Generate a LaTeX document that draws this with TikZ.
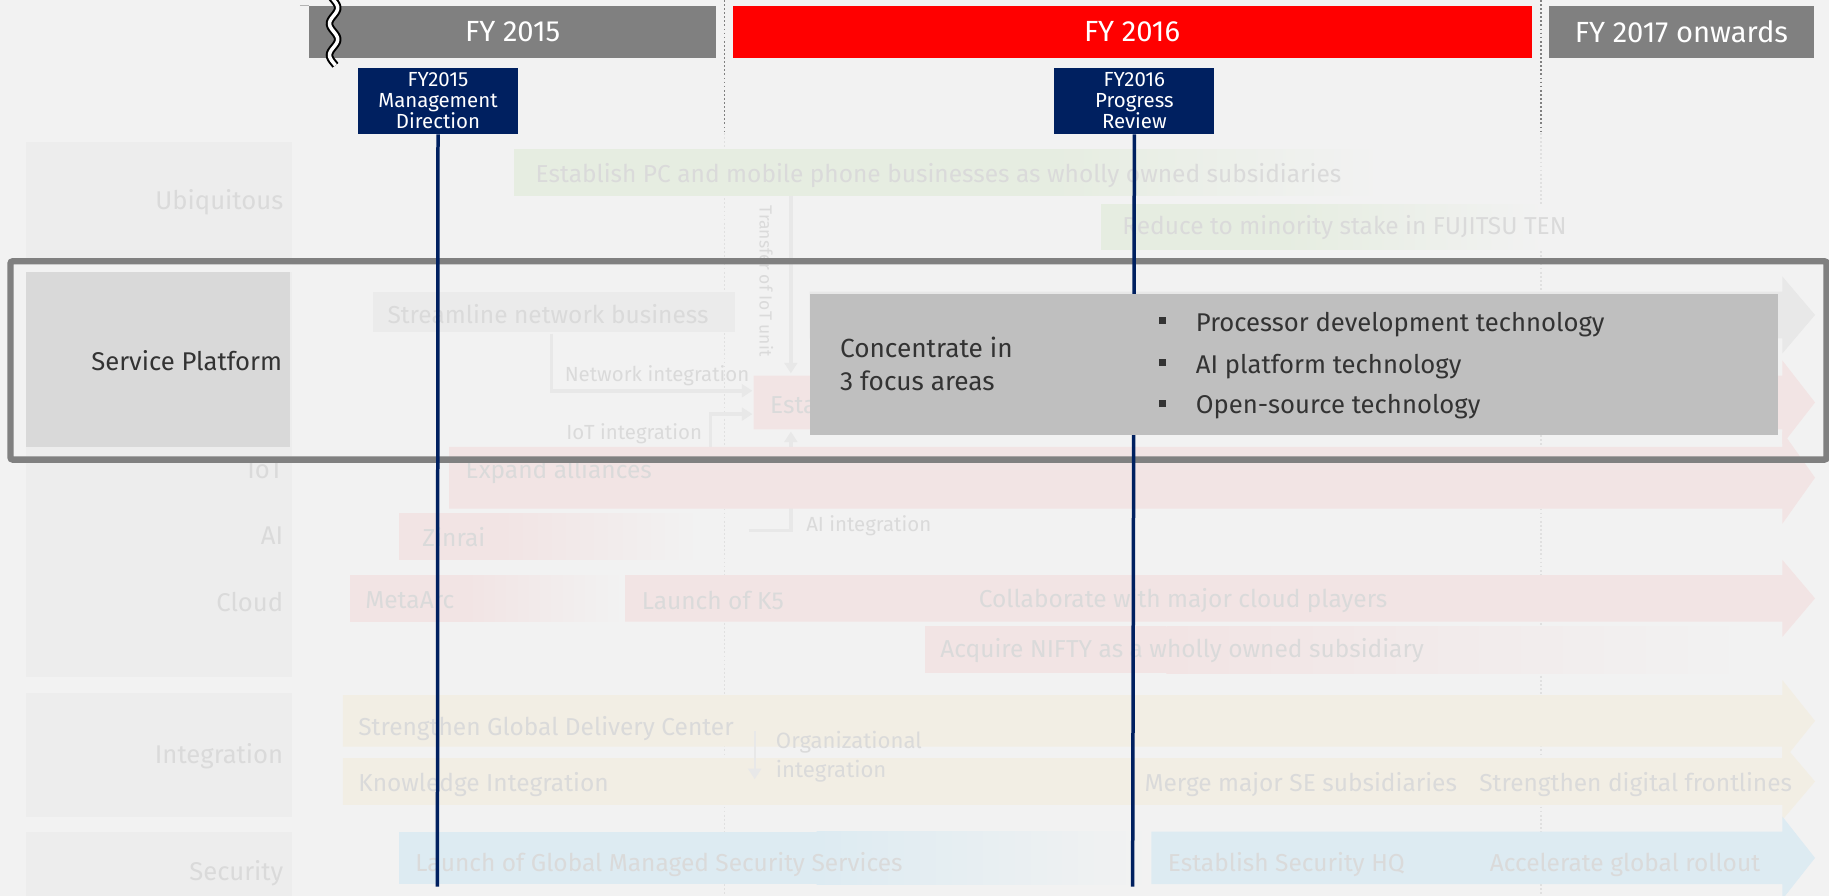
\documentclass[tikz,border=0pt]{standalone}
\usepackage{fontspec}
\setmainfont{Fira Sans}
\usetikzlibrary{arrows.meta,positioning}

\definecolor{bgray}{HTML}{F2F2F2}
\definecolor{fadetext}{HTML}{DADADA}
\definecolor{navy}{HTML}{002060}
\definecolor{fyred}{HTML}{FF0000}
\definecolor{fygray}{HTML}{808080}
\definecolor{greenrow}{HTML}{E6EDE1}
\definecolor{pinkrow}{HTML}{F2E4E4}
\definecolor{beigerow}{HTML}{F2EEE4}
\definecolor{bluerow}{HTML}{DDEBF2}
\definecolor{grayrow}{HTML}{E8E8E8}
\definecolor{labelbox}{HTML}{EDEDED}
\definecolor{darktext}{HTML}{333333}
\definecolor{focusbox}{HTML}{BFBFBF}

\tikzset{
  yearbar/.style={fill=#1, text=white, inner sep=0pt, minimum height=45pt,
    font=\fontsize{25}{28}\selectfont},
  milestone/.style={fill=navy, text=white, inner sep=0pt, align=center,
    minimum width=137pt, minimum height=57pt, font=\fontsize{17.5}{18}\selectfont},
  rowlabel/.style={anchor=east, text=fadetext, inner sep=0pt, yshift=-2pt,
    font=\fontsize{22}{25}\selectfont},
  faded/.style={anchor=west, text=fadetext, inner sep=0pt, yshift=-1.5pt,
    font=\fontsize{21}{24}\selectfont},
  smallfaded/.style={anchor=west, text=fadetext, inner sep=0pt, yshift=-1pt,
    font=\fontsize{17.5}{20}\selectfont},
  conn/.style={draw=grayrow, line width=3pt, -{Triangle[width=11pt,length=9pt]}},
  navyline/.style={draw=navy, line width=3pt},
}

% arrow shaped row band: x1, y1, y2, colour
\newcommand{\rowarrow}[4]{%
  \fill[#4] (#1,#2) -- (1528,#2) -- (1528,{#2-13}) -- (1556,{(#2+#3)/2})
    -- (1528,{#3+13}) -- (1528,#3) -- (#1,#3) -- cycle;}
% box that fades out to the right: x1, y1, xm, x2, y2, colour
\newcommand{\fadebox}[6]{%
  \fill[#6] (#1,#2) rectangle (#3,#5);
  \shade[left color=#6, right color=bgray] (#3,#2) rectangle (#4,#5);}

\begin{document}
\begin{tikzpicture}[x=1pt,y=-1pt]
  \fill[bgray] (0,0) rectangle (1568,768);
  \useasboundingbox (0,0) rectangle (1568,768);

  % label column
  \fill[labelbox] (22,122) rectangle (250,222);
  \fill[labelbox] (22,233) rectangle (250,580);
  \fill[labelbox] (22,594) rectangle (250,700);
  \fill[labelbox] (22,713) rectangle (250,768);

  % year separators
  \foreach \x in {621,1321} {
    \draw[fygray, line width=1.2pt, dash pattern=on 1.5pt off 2pt] (\x,0) -- (\x,114);
    \draw[black!12, line width=1.2pt, dash pattern=on 1.5pt off 2pt] (\x,114) -- (\x,768);
  }

  % years
  \draw[fygray!60, line width=0.8pt] (257,5) -- (265,5);
  \node[yearbar=fygray, minimum width=349pt] (fy15) at (439.5,27.5) {FY 2015};
  \node[yearbar=fyred, minimum width=685pt] (fy16) at (970.5,27.5) {FY 2016};
  \node[yearbar=fygray, minimum width=227pt] (fy17) at (1441.5,27.5) {FY 2017 onwards};
  % break mark
  \draw[black, line width=6.5pt] plot[domain=-2:56, samples=60] ({286+3.5*sin(\x/27*360)},\x);
  \draw[white, line width=3pt] plot[domain=-2:56, samples=60] ({286+3.5*sin(\x/27*360)},\x);

  % row labels
  \foreach \y/\t [count=\i] in {171/Ubiquitous, 401/IoT, 457/AI, 514/Cloud,
      646/Integration, 747/Security}
    \node[rowlabel] (lab\i) at (243,\y) {\t};

  % ubiquitous
  \fadebox{441}{128}{900}{1185}{168}{greenrow}
  \node[faded] (ubq) at (459,149) {Establish PC and mobile phone businesses as wholly owned subsidiaries};
  \fadebox{944}{175}{1100}{1325}{214}{greenrow}
  \node[faded] (ften) at (962,194) {Reduce to minority stake in FUJITSU TEN};

  % service platform
  \rowarrow{694}{250}{290}{grayrow}
  \fill[black!8] (320,250) rectangle (630,285);
  \node[faded] (strm) at (332,268) {Streamline network business};
  \rowarrow{646}{322}{368}{pinkrow}
  \node[faded] (estab) at (660,345) {Establish};
  \coordinate (estabN) at (645,335);
  \coordinate (estabI) at (645,355);
  \coordinate (estabT) at (678,320);
  \coordinate (estabB) at (678,370);
  \coordinate (netfrom) at (473,286);
  \coordinate (iotfrom) at (609,384);
  \coordinate (aifrom) at (642,455);
  \coordinate (pcfrom) at (678,168);
  \draw[conn] (netfrom) |- (estabN);
  \draw[conn] (iotfrom) |- (estabI);
  \draw[conn] (aifrom) -| (estabB);
  \draw[conn] (pcfrom) -- (estabT);
  \node[smallfaded] (netlab) at (484,321) {Network integration};
  \node[smallfaded, anchor=east] (iotlab) at (602,371) {IoT integration};
  \node[smallfaded] (ailab) at (691,450) {AI integration};
  \node[text=fadetext, inner sep=0pt, rotate=-90, font=\fontsize{15}{17}\selectfont] (xfer) at (657,241) {Transfer of IoT unit};

  % iot, ai, cloud
  \rowarrow{385}{383}{436}{pinkrow}
  \node[faded] (alli) at (399,403) {Expand alliances};
  \fadebox{342}{440}{430}{600}{480}{pinkrow}
  \node[faded] (zinr) at (362,459) {Zinrai};
  \fadebox{300}{493}{400}{535}{533}{pinkrow}
  \node[faded] (meta) at (313,513) {MetaArc};
  \rowarrow{536}{493}{533}{pinkrow}
  \node[faded] (k5) at (550,513) {Launch of K5};
  \node[faded] (collab) at (839,513) {Collaborate with major cloud players};
  \fadebox{793}{537}{1000}{1500}{577}{pinkrow}
  \node[faded] (nifty) at (806,556) {Acquire NIFTY as a wholly owned subsidiary};

  % integration
  \rowarrow{294}{596}{640}{beigerow}
  \node[faded] (gdc) at (307,623) {Strengthen Global Delivery Center};
  \rowarrow{294}{650}{690}{beigerow}
  \node[faded] (know) at (307,671) {Knowledge Integration};
  \node[faded] (merge) at (981,671) {Merge major SE subsidiaries};
  \node[faded] (digi) at (1268,671) {Strengthen digital frontlines};
  \coordinate (orgfrom) at (647,627);
  \coordinate (orgto) at (647,668);
  \draw[conn, line width=2pt] (orgfrom) -- (orgto);
  \node[smallfaded, align=left, font=\fontsize{19}{25}\selectfont] (orglab) at (665,648) {Organizational\\integration};

  % security
  \fadebox{342}{713}{700}{985}{758}{bluerow}
  \node[faded] (gmss) at (356,740) {Launch of Global Managed Security Services};
  \rowarrow{987}{713}{758}{bluerow}
  \node[faded] (shq) at (1001,740) {Establish Security HQ};
  \node[faded] (roll) at (1277,740) {Accelerate global rollout};

  % highlight frame
  \draw[fygray, line width=5.5pt, rounded corners=2pt] (9,224) rectangle (1566,394);
  \fill[black!15] (22,233) rectangle (249,383);
  \node[anchor=east, text=darktext, inner sep=0pt, font=\fontsize{22}{25}\selectfont] (svc) at (242,309) {Service Platform};

  % milestones
  \node[milestone] (ms15) at (375.5,86.5) {FY2015\\Management\\Direction};
  \node[milestone] (ms16) at (972.5,86.5) {FY2016\\Progress\\Review};
  \coordinate (end15) at (375,760);
  \coordinate (end16) at (971,760);
  \draw[navyline] (ms15.south) -- (end15);
  \draw[navyline] (ms16.south) -- (end16);

  % focus areas
  \fill[focusbox] (694,252) rectangle (1524,373);
  \node[anchor=west, text=darktext, inner sep=0pt, align=left,
    font=\fontsize{22.5}{29}\selectfont] (conc) at (720,312) {Concentrate in\\3 focus areas};
  \foreach \y/\t [count=\i] in {276/Processor development technology,
      312/AI platform technology, 347/Open-source technology} {
    \fill[darktext] (994,{\y-4}) rectangle (1000,{\y+2});
    \node[anchor=west, text=darktext, inner sep=0pt, yshift=-2pt,
      font=\fontsize{22}{25}\selectfont] (foc\i) at (1025,\y) {\t};
  }
\end{tikzpicture}
\end{document}
